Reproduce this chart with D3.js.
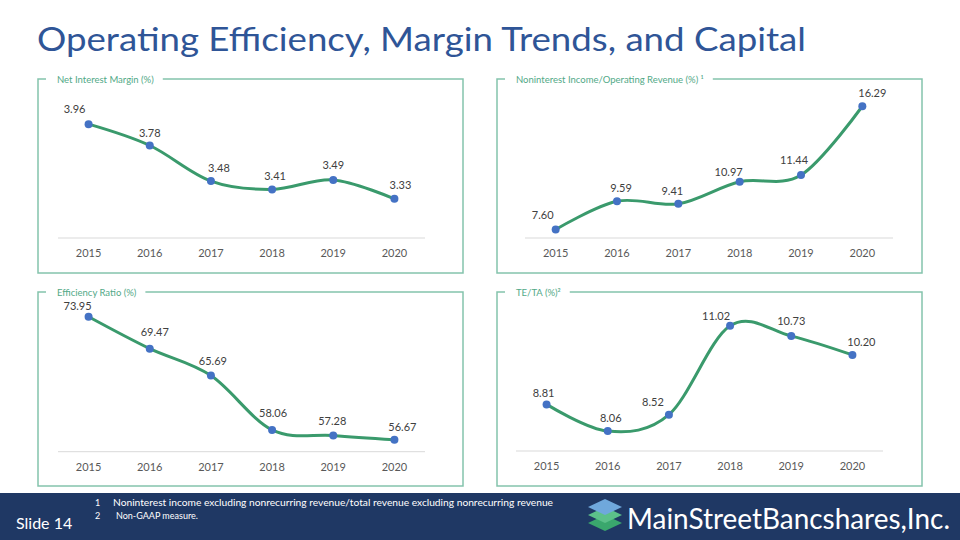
<!DOCTYPE html>
<html><head><meta charset="utf-8">
<script src="https://cdn.jsdelivr.net/npm/d3@7"></script>
<style>html,body{margin:0;padding:0;background:#fff;}svg{display:block;font-family:Lato,"Open Sans",sans-serif;}</style>
</head><body><svg id="c" width="960" height="540"></svg>
<script>
// ---------- data ----------
const years = ["2015","2016","2017","2018","2019","2020"];
const netInterestMargin = [3.96, 3.78, 3.48, 3.41, 3.49, 3.33];
const noninterestIncomeRatio = [7.60, 9.59, 9.41, 10.97, 11.44, 16.29];
const efficiencyRatio = [73.95, 69.47, 65.69, 58.06, 57.28, 56.67];
const teTa = [8.81, 8.06, 8.52, 11.02, 10.73, 10.20];
const chartTitles = ["Net Interest Margin (%)", "Noninterest Income/Operating Revenue (%) \u00B9", "Efficiency Ratio (%)", "TE/TA (%)\u00B2"];
const footnotes = ["Noninterest income excluding nonrecurring revenue/total revenue excluding nonrecurring revenue", "Non-GAAP measure."];

// ---------- layout ----------
const panels = [
  {values: netInterestMargin, title: chartTitles[0], fmt: ".2f", x: 38, y: 79, dom: [3.0, 4.2], top: 16.7, ax: [20, 387], base: 159,
   ldx: [-14, 0, 8, 3, 0, 6], ldy: [-11, -9, -9.4, -9.3, -10.7, -9.4]},
  {values: noninterestIncomeRatio, title: chartTitles[1], fmt: ".2f", x: 497, y: 79, dom: [7, 18], top: 3, ax: [28, 396], base: 159,
   ldx: [-13, 4, -6, -11, -7, 10], ldy: [-10, -9.4, -9.3, -5.6, -11, -9.4]},
  {values: efficiencyRatio, title: chartTitles[2], fmt: ".2f", x: 38, y: 292, dom: [55, 80], top: -18.3, ax: [20, 387], base: 159.7,
   ldx: [-11, 5, 2, 1, -1, 8], ldy: [-7, -12.3, -11, -12.6, -10, -9.3]},
  {values: teTa, title: chartTitles[3], fmt: ".2f", x: 497, y: 292, dom: [7.5, 11.5], top: 16.7, ax: [19, 386], base: 159,
   ldx: [-3, 3, -16, -14, 0, 9], ldy: [-7.6, -8.7, -9, -5.7, -10.6, -9.3]}
];
const PW = 425, PH = 194;
const C = {border: "#84c3ac", ptitle: "#52a987", line: "#3a9a6c", dot: "#4472c4", axis: "#d9d9d9", tick: "#595959", lbl: "#404040", title: "#2f5597", navy: "#1f3864"};

const svg = d3.select("#c");

// main title
svg.append("text").attr("x", 37).attr("y", 51).attr("font-size", 33).attr("fill", C.title)
  .attr("textLength", 769).attr("lengthAdjust", "spacingAndGlyphs")
  .text("Operating Efficiency, Margin Trends, and Capital");

panels.forEach(p => {
  const g = svg.append("g").attr("transform", `translate(${p.x},${p.y})`);
  g.append("rect").attr("x", 0).attr("y", 0).attr("width", PW).attr("height", PH)
    .attr("fill", "none").attr("stroke", C.border).attr("stroke-width", 1.5);
  const tt = g.append("text").attr("x", 19).attr("y", 3.5).attr("font-size", 9.5).attr("fill", C.ptitle).text(p.title);
  const w = tt.node().getComputedTextLength();
  g.insert("rect", "text").attr("x", 8).attr("y", -3).attr("width", w + 11 + 9).attr("height", 6).attr("fill", "#fff");

  const x = d3.scaleBand().domain(years).range(p.ax);
  const y = d3.scaleLinear().domain(p.dom).range([p.base, p.top]);

  g.append("line").attr("x1", p.ax[0]).attr("x2", p.ax[1]).attr("y1", p.base).attr("y2", p.base)
    .attr("stroke", C.axis).attr("stroke-width", 1);
  const axis = d3.axisBottom(x).tickSize(0).tickPadding(0);
  const ag = g.append("g").attr("transform", `translate(0,${p.base})`).call(axis);
  ag.select(".domain").remove();
  ag.selectAll("text").attr("font-size", 11).attr("fill", C.tick).attr("dy", 0).attr("y", 19)
    .attr("font-family", "Lato");

  const cx = (d, i) => x(years[i]) + x.bandwidth() / 2;
  const line = d3.line().x(cx).y(d => y(d)).curve(d3.curveCardinal.tension(0));
  g.append("path").datum(p.values).attr("d", line).attr("fill", "none")
    .attr("stroke", C.line).attr("stroke-width", 3).attr("stroke-linejoin", "round").attr("stroke-linecap", "round");
  g.selectAll("circle").data(p.values).join("circle")
    .attr("cx", cx).attr("cy", d => y(d)).attr("r", 4).attr("fill", C.dot);
  g.selectAll("text.v").data(p.values).join("text").attr("class", "v")
    .attr("x", (d, i) => cx(d, i) + p.ldx[i]).attr("y", (d, i) => y(d) + p.ldy[i])
    .attr("text-anchor", "middle").attr("font-size", 11).attr("fill", C.lbl)
    .text(d => d3.format(p.fmt)(d));
});

// footer
svg.append("rect").attr("x", 0).attr("y", 493).attr("width", 960).attr("height", 47).attr("fill", C.navy);
svg.append("text").attr("x", 16).attr("y", 529).attr("font-size", 16).attr("fill", "#fff").text("Slide 14");
footnotes.forEach((t, i) => {
  svg.append("text").attr("x", 95).attr("y", 506 + i * 13).attr("font-size", 9).attr("fill", "#fff").text(String(i + 1));
  const tx = svg.append("text").attr("x", i === 0 ? 113 : 116).attr("y", 506 + i * 13).attr("font-size", 9).attr("fill", "#fff").text(t);
  if (i === 0) tx.attr("textLength", 440).attr("lengthAdjust", "spacingAndGlyphs");
});

// logo icon
const lg = svg.append("g").attr("transform", "translate(605,0)");
const diamond = (cy, col) => lg.append("path")
  .attr("d", `M-17,${cy} L0,${cy - 8} L17,${cy} L0,${cy + 8} Z`).attr("fill", col);
diamond(523, "#3aa76d");
diamond(515, "#5cc08a");
diamond(507, "#6fa8dc");
svg.append("text").attr("x", 627).attr("y", 529).attr("font-size", 28).attr("fill", "#fff")
  .attr("textLength", 323).attr("lengthAdjust", "spacingAndGlyphs").text("MainStreetBancshares,Inc.");
</script></body></html>
